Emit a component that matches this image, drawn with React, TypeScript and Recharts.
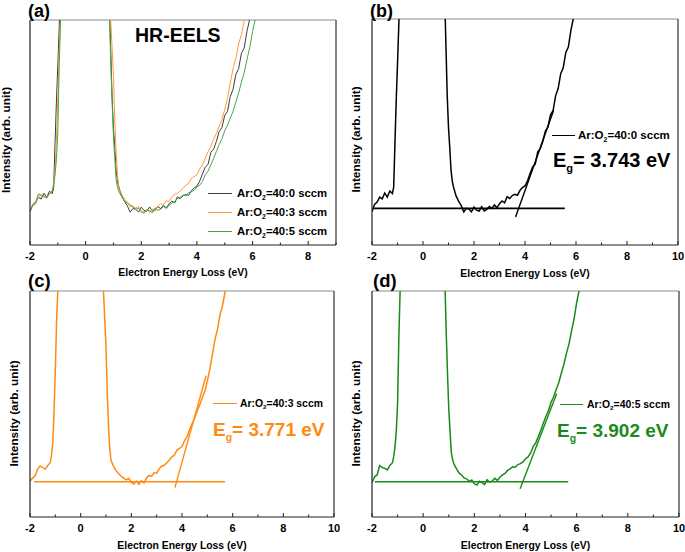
import { LineChart, Line, XAxis, YAxis, ReferenceLine, Legend } from 'recharts'

const FONT = '"Liberation Sans", Arial, Helvetica, sans-serif'

// energy loss (eV): sparse across the zero-loss peak, 0.1 eV elsewhere
const energy = [
  -2.0, -1.9, -1.8, -1.7, -1.6, -1.5, -1.4, -1.3, -1.2,
  -1.15, -1.1, -1.05, -1.0, -0.95, -0.9, -0.85,
  0,
  0.8, 0.85, 0.9, 0.95, 1.0, 1.05, 1.1, 1.15, 1.2,
  1.3, 1.4, 1.5, 1.6, 1.7, 1.8, 1.9, 2.0, 2.1, 2.2,
  2.3, 2.4, 2.5, 2.6, 2.7, 2.8, 2.9, 3.0, 3.1, 3.2,
  3.3, 3.4, 3.5, 3.6, 3.7, 3.8, 3.9, 4.0, 4.1, 4.2,
  4.3, 4.4, 4.5, 4.6, 4.7, 4.8, 4.9, 5.0, 5.1, 5.2,
  5.3, 5.4, 5.5, 5.6, 5.7, 5.8, 5.9, 6.0, 6.1, 6.2, 6.3,
]

// intensity (arb. unit, 0 = bottom of frame, 100 = top)
const sccm0 = [
  14.7, 18.0, 19.0, 21.2, 20.4, 23.0, 21.2, 23.9, 22.8,
  25.5, 45, 64, 80, 97, 115, 140,
  400,
  150, 110, 88, 66, 52, 43, 33, 28, 25.5,
  21.6, 19.3, 17.4, 14.6, 16.2, 15.9, 14.7, 16.8, 15.4, 15.0,
  16.9, 15.1, 15.8, 17.0, 16.2, 17.7, 16.5, 18.3, 19.5, 18.7,
  21.4, 20.6, 21.9, 22.4, 22.0, 24.1, 25.4, 26.2, 28.4, 31.6,
  34.6, 35.8, 41.2, 42.6, 46.0, 50.4, 52.2, 57.6, 59.4, 66.0,
  69.2, 75.8, 78.4, 85.2, 87.6, 95.0, 100.5, 108, 116, 125, 135,
]

const sccm3 = [
  15.8, 17.2, 18.2, 21.2, 22.6, 21.8, 21.2, 22.8, 24.0,
  27.5, 33, 47, 65, 87, 101, 130,
  400,
  140, 115, 100, 88, 75, 55, 40, 30, 25,
  22.4, 20.4, 19.1, 18.0, 17.2, 16.4, 17.1, 15.3, 14.6, 15.9,
  14.5, 16.1, 15.0, 17.3, 18.4, 18.0, 19.6, 19.4, 21.3, 22.6,
  22.9, 24.0, 25.2, 26.6, 27.4, 29.6, 30.4, 31.2, 33.8, 35.6,
  38.6, 41.4, 43.8, 47.0, 49.6, 52.8, 55.6, 60.2, 65.4, 72.0,
  78.4, 83.0, 89.4, 93.6, 99.6, 104, 112, 120, 128, 136, 145,
]

const sccm5 = [
  15.2, 17.8, 18.6, 22.8, 21.9, 21.5, 20.8, 22.8, 24.0,
  26.8, 31.1, 38, 50.3, 79.8, 100.5, 130,
  400,
  140, 104, 82, 64, 48, 38, 28.5, 25.5, 23.5,
  21.4, 19.5, 18.6, 17.3, 16.9, 15.8, 16.4, 14.7, 14.1, 15.8,
  15.2, 14.3, 16.5, 15.4, 15.9, 17.1, 16.2, 17.6, 18.6, 19.3,
  20.6, 21.3, 22.2, 22.0, 23.2, 23.6, 24.4, 25.8, 26.6, 28.2,
  31.2, 32.8, 35.6, 38.4, 41.6, 44.6, 47.2, 50.8, 53.2, 56.4,
  59.4, 63.6, 67.6, 72.4, 76.6, 82.4, 87.8, 94.8, 100.5, 108, 116,
]

const flowRatios = ['40:0', '40:3', '40:5']
const gapValues = ['3.743', '3.771', '3.902']

const ticksShort = [-2, -1, 0, 1, 2, 3, 4, 5, 6, 7, 8, 9]
const ticksLong = [-2, -1, 0, 1, 2, 3, 4, 5, 6, 7, 8, 9, 10]

// onset fits: flat background line and linear edge, in (eV, intensity)
const baseB = [{ x: -1.96, y: 16.2 }, { x: 5.56, y: 16.2 }]
const edgeB = [{ x: 3.63, y: 12.4 }, { x: 5.12, y: 59.5 }]
const baseC = [{ x: -1.84, y: 15.6 }, { x: 5.7, y: 15.6 }]
const edgeC = [{ x: 3.72, y: 13.0 }, { x: 4.95, y: 62.5 }]
const baseD = [{ x: -1.89, y: 15.6 }, { x: 5.67, y: 15.6 }]
const edgeD = [{ x: 3.79, y: 12.5 }, { x: 5.22, y: 54.7 }]

const rows = energy.map((e, i) => ({ e, s0: sccm0[i], s3: sccm3[i], s5: sccm5[i] }))

const BLACK = '#000000'
const ORANGE = '#ff8a12'
const GREEN = '#1a8a1a'

function GasLabel({ ratio }: { ratio: string }) {
  return (
    <span>
      Ar:O<span style={{ fontSize: '0.6em', position: 'relative', top: '0.4em' }}>2</span>={ratio} sccm
    </span>
  )
}

function EnergyTick(props: any) {
  const { x, y, payload, labelDy } = props
  const v = payload.value
  const major = v % 2 === 0
  return (
    <g>
      <line x1={x} x2={x} y1={y} y2={y - (major ? 4 : 2.5)} stroke="#222" strokeWidth={1} />
      {major && (
        <text x={x} y={y + labelDy} textAnchor="middle" fontSize={11} fontWeight="bold" fontFamily={FONT} fill="#000">
          {v}
        </text>
      )}
    </g>
  )
}

const yTitle = (bx: number, dy: number) => (p: any) => {
  const vb = p.viewBox
  const x = vb.x + bx
  const y = vb.y + vb.height / 2 + dy
  return (
    <text x={x} y={y} transform={`rotate(-90 ${x} ${y})`} textAnchor="middle" fontSize={11.8} fontWeight="bold" fontFamily={FONT} fill="#000">
      Intensity (arb. unit)
    </text>
  )
}

const xTitle = (dy: number) => (p: any) => {
  const vb = p.viewBox
  return (
    <text x={vb.x + vb.width / 2} y={vb.y + dy} textAnchor="middle" fontSize={10.4} fontWeight="bold" fontFamily={FONT} fill="#000">
      Electron Energy Loss (eV)
    </text>
  )
}

type Pt = { x: number; y: number }
type Series = { key: string; color: string }

interface PanelProps {
  left: number
  top: number
  width: number
  height: number
  marginTop: number
  marginRight: number
  yWidth: number
  xMax: number
  ticks: number[]
  series: Series[]
  strokeWidth: number
  fit?: { base: Pt[]; edge: Pt[]; color: string }
  legend: React.ReactNode
  legendLeft: number
  legendTop: number
  yTitleAt: [number, number]
  xTitleDy: number
  tickDy: number
}

function Panel(p: PanelProps) {
  return (
    <div style={{ position: 'absolute', left: p.left, top: p.top }}>
      <LineChart width={p.width} height={p.height} data={rows} margin={{ top: p.marginTop, right: p.marginRight, left: 0, bottom: 0 }}>
        <XAxis
          dataKey="e"
          type="number"
          domain={[-2, p.xMax]}
          ticks={p.ticks}
          interval={0}
          allowDataOverflow
          height={35}
          tickSize={0}
          tickMargin={0}
          tickLine={false}
          tick={(t: any) => <EnergyTick {...t} labelDy={p.tickDy} />}
          axisLine={{ stroke: '#222', strokeWidth: 1.2 }}
          label={xTitle(p.xTitleDy)}
        />
        <YAxis
          type="number"
          domain={[0, 100]}
          allowDataOverflow
          width={p.yWidth}
          tick={false}
          tickLine={false}
          axisLine={{ stroke: '#222', strokeWidth: 1.2 }}
          label={yTitle(p.yTitleAt[0], p.yTitleAt[1])}
        />
        {/* frame: top and right edges */}
        <ReferenceLine y={100} stroke="#8c8c8c" strokeWidth={1.2} />
        <ReferenceLine x={p.xMax} stroke="#333" strokeWidth={1.2} />
        {p.fit && <ReferenceLine segment={p.fit.base} stroke={p.fit.color} strokeWidth={1.6} />}
        {p.fit && <ReferenceLine segment={p.fit.edge} stroke={p.fit.color} strokeWidth={1.4} />}
        {p.series.map((s) => (
          <Line
            key={s.key}
            dataKey={s.key}
            type="linear"
            stroke={s.color}
            strokeWidth={p.strokeWidth}
            dot={false}
            activeDot={false}
            isAnimationActive={false}
          />
        ))}
        <Legend
          layout="horizontal"
          verticalAlign="middle"
          align="center"
          wrapperStyle={{ left: p.legendLeft, top: p.legendTop, width: 'auto' }}
          content={() => p.legend}
        />
      </LineChart>
    </div>
  )
}

const legendRow = (ratio: string, color: string, size: number, lineW: number, gap: number, h: number, thick: number) => (
  <div key={ratio} style={{ display: 'flex', alignItems: 'center', height: h, whiteSpace: 'nowrap', fontSize: size }}>
    <span style={{ width: lineW, borderTop: `${thick}px solid ${color}`, marginRight: gap }} />
    <GasLabel ratio={ratio} />
  </div>
)

function GapLabel({ value, color, size, mt, ml }: { value: string; color: string; size: number; mt: number; ml: number }) {
  return (
    <div style={{ color, fontSize: size, lineHeight: '24px', marginTop: mt, marginLeft: ml, whiteSpace: 'nowrap' }}>
      E<span style={{ fontSize: '0.55em', position: 'relative', top: '0.45em' }}>g</span>= {value} eV
    </div>
  )
}

const legendA = (
  <div style={{ fontFamily: FONT, fontWeight: 'bold', color: '#000' }}>
    {legendRow(flowRatios[0], '#3c3c3c', 11.3, 24, 5, 19, 1)}
    {legendRow(flowRatios[1], '#ff9a3c', 11.3, 24, 5, 19, 1)}
    {legendRow(flowRatios[2], '#45a845', 11.3, 24, 5, 19, 1)}
  </div>
)

const legendB = (
  <div style={{ fontFamily: FONT, fontWeight: 'bold', color: '#000' }}>
    {legendRow(flowRatios[0], BLACK, 11.5, 23, 3, 18, 1.5)}
    <GapLabel value={gapValues[0]} color={BLACK} size={20} mt={4} ml={1} />
  </div>
)

const legendC = (
  <div style={{ fontFamily: FONT, fontWeight: 'bold', color: '#000' }}>
    {legendRow(flowRatios[1], ORANGE, 10.4, 24, 3, 18, 1.5)}
    <GapLabel value={gapValues[1]} color={ORANGE} size={19} mt={6} ml={0} />
  </div>
)

const legendD = (
  <div style={{ fontFamily: FONT, fontWeight: 'bold', color: '#000' }}>
    {legendRow(flowRatios[2], GREEN, 10.4, 23, 4, 18, 1.5)}
    <GapLabel value={gapValues[2]} color={GREEN} size={19} mt={6} ml={-3} />
  </div>
)

export default function App() {
  return (
    <div style={{ position: 'absolute', left: 0, top: 0, width: 685, height: 552, background: '#fff', fontFamily: FONT, overflow: 'hidden' }}>
      <Panel
        left={0} top={0} width={342} height={280} marginTop={20} marginRight={6} yWidth={30}
        xMax={9} ticks={ticksShort} strokeWidth={1}
        series={[{ key: 's0', color: '#3c3c3c' }, { key: 's3', color: '#ff9a3c' }, { key: 's5', color: '#45a845' }]}
        legend={legendA} legendLeft={208} legendTop={183.5}
        yTitleAt={[10, 7.5]} xTitleDy={31} tickDy={15}
      />
      <Panel
        left={340} top={0} width={345} height={280} marginTop={19} marginRight={7} yWidth={32}
        xMax={10} ticks={ticksLong} strokeWidth={1.5}
        series={[{ key: 's0', color: BLACK }]}
        fit={{ base: baseB, edge: edgeB, color: BLACK }}
        legend={legendB} legendLeft={212} legendTop={126}
        yTitleAt={[20, 7.5]} xTitleDy={32} tickDy={15}
      />
      <Panel
        left={0} top={270} width={342} height={282} marginTop={21} marginRight={8} yWidth={30}
        xMax={10} ticks={ticksLong} strokeWidth={1.5}
        series={[{ key: 's3', color: ORANGE }]}
        fit={{ base: baseC, edge: edgeC, color: ORANGE }}
        legend={legendC} legendLeft={213} legendTop={124}
        yTitleAt={[18, 9.5]} xTitleDy={32} tickDy={14.5}
      />
      <Panel
        left={340} top={270} width={345} height={282} marginTop={21} marginRight={6} yWidth={32}
        xMax={10} ticks={ticksLong} strokeWidth={1.5}
        series={[{ key: 's5', color: GREEN }]}
        fit={{ base: baseD, edge: edgeD, color: GREEN }}
        legend={legendD} legendLeft={220} legendTop={125}
        yTitleAt={[20, 9.5]} xTitleDy={32} tickDy={14.5}
      />
      <svg width={685} height={552} style={{ position: 'absolute', left: 0, top: 0, pointerEvents: 'none' }}>
        <g fontFamily={FONT} fontWeight="bold" fill="#000">
          <text x={28} y={16.5} fontSize={18}>(a)</text>
          <text x={370} y={16.5} fontSize={18}>(b)</text>
          <text x={28} y={287} fontSize={18.5}>(c)</text>
          <text x={373} y={287} fontSize={18.5}>(d)</text>
          <text x={135} y={42} fontSize={19.5}>HR-EELS</text>
        </g>
      </svg>
    </div>
  )
}
